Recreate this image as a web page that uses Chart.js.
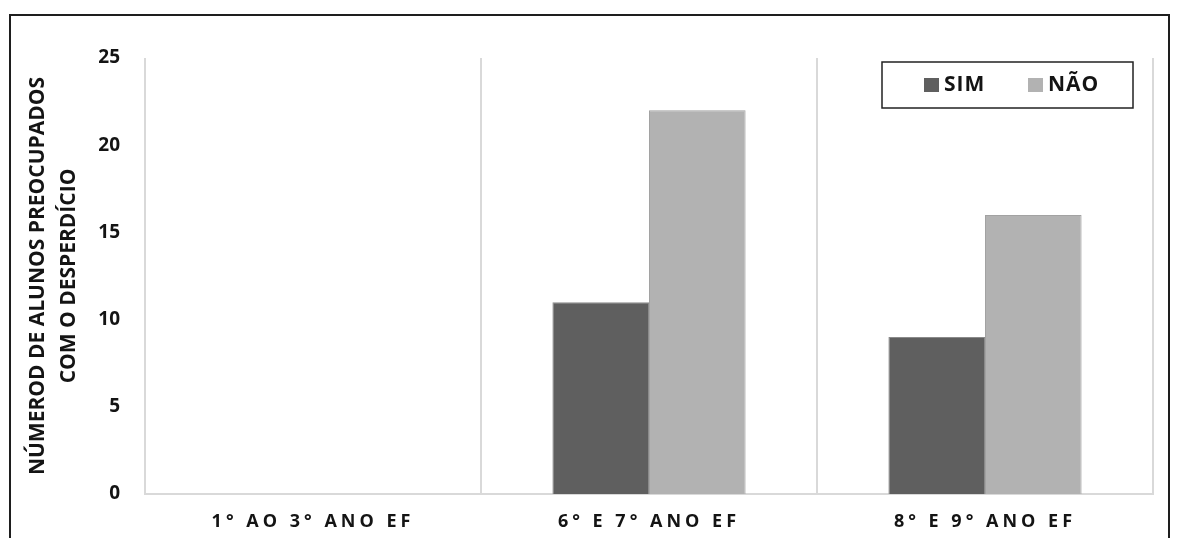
<!DOCTYPE html>
<html>
<head>
<meta charset="utf-8">
<script src="https://cdn.jsdelivr.net/npm/chart.js@4.4.1/dist/chart.umd.min.js"></script>
<style>
  body { margin: 0; background: #fff; overflow: hidden; }
  #wrap { position: relative; width: 1181px; height: 538px; }
  #frame { position: absolute; left: 9px; top: 14px; width: 1157px; height: 600px; border: 2px solid #1e1e1e; }
  canvas { position: absolute; left: 0; top: 0; }
</style>
</head>
<body>
<div id="wrap">
  <div id="frame"></div>
  <canvas id="grafico" width="1181" height="538"></canvas>
</div>
<script>
const turmas = ['1° AO 3° ANO EF', '6° E 7° ANO EF', '8° E 9° ANO EF'];
const sim = [0, 11, 9];
const nao = [0, 22, 16];
const yTicks = [0, 5, 10, 15, 20, 25];
const tituloY = ['NÚMEROD DE ALUNOS PREOCUPADOS', 'COM O DESPERDÍCIO'];

const fonte = "'Open Sans', sans-serif";
const corTexto = '#141414';

// espaçamento entre letras nos rótulos das turmas
const espacoLetras = {
  id: 'espacoLetras',
  afterDatasetsDraw(chart) { chart.ctx.letterSpacing = '4px'; },
  afterDraw(chart) { chart.ctx.letterSpacing = '0px'; }
};

// legenda com moldura dentro da área do gráfico
const legendaCaixa = {
  id: 'legendaCaixa',
  afterDraw(chart) {
    const ctx = chart.ctx;
    const area = chart.chartArea;
    const x0 = area.right - 271, y0 = area.top + 4, w = 251, h = 46;
    ctx.save();
    ctx.fillStyle = '#fff';
    ctx.fillRect(x0, y0, w, h);
    ctx.strokeStyle = '#222';
    ctx.lineWidth = 1.5;
    ctx.strokeRect(x0, y0, w, h);
    ctx.font = 'bold 21px ' + fonte;
    ctx.letterSpacing = '1px';
    ctx.textBaseline = 'middle';
    let x = x0 + 42;
    chart.data.datasets.forEach((ds) => {
      ctx.fillStyle = ds.backgroundColor;
      ctx.fillRect(x, y0 + 16, 15, 14);
      ctx.fillStyle = corTexto;
      ctx.fillText(ds.label, x + 20, y0 + 23);
      x += 104;
    });
    ctx.restore();
  }
};

new Chart(document.getElementById('grafico'), {
  type: 'bar',
  data: {
    labels: turmas,
    datasets: [
      { label: 'SIM', data: sim, backgroundColor: '#5f5f5f', borderColor: '#8a8a8a', borderWidth: 1 },
      { label: 'NÃO', data: nao, backgroundColor: '#b2b2b2', borderColor: '#a2a2a2', borderWidth: 1 }
    ]
  },
  options: {
    responsive: false,
    animation: false,
    layout: { padding: { top: 58, right: 28, left: 0, bottom: 0 } },
    datasets: { bar: { categoryPercentage: 0.575, barPercentage: 1 } },
    plugins: { legend: { display: false }, tooltip: { enabled: false } },
    scales: {
      x: {
        afterFit(scale) { scale.height = 44; },
        grid: { color: '#d9d9d9', lineWidth: 2, drawTicks: false, offset: true },
        border: { display: true, color: '#d9d9d9', width: 2 },
        ticks: { z: 1, padding: 17, color: corTexto, font: { family: fonte, size: 18, weight: 'bold' } }
      },
      y: {
        min: 0,
        max: 25,
        afterFit(scale) { scale.width = 145; },
        afterBuildTicks(scale) { scale.ticks = yTicks.map(v => ({ value: v })); },
        grid: { display: false, drawTicks: false },
        border: { display: false },
        ticks: { padding: 25, color: corTexto, font: { family: fonte, size: 19, weight: 'bold' } },
        title: {
          display: true,
          text: tituloY,
          color: corTexto,
          padding: { top: 22 },
          font: { family: fonte, size: 21, weight: 'bold', lineHeight: 1.5 }
        }
      }
    }
  },
  plugins: [espacoLetras, legendaCaixa]
});
</script>
</body>
</html>
